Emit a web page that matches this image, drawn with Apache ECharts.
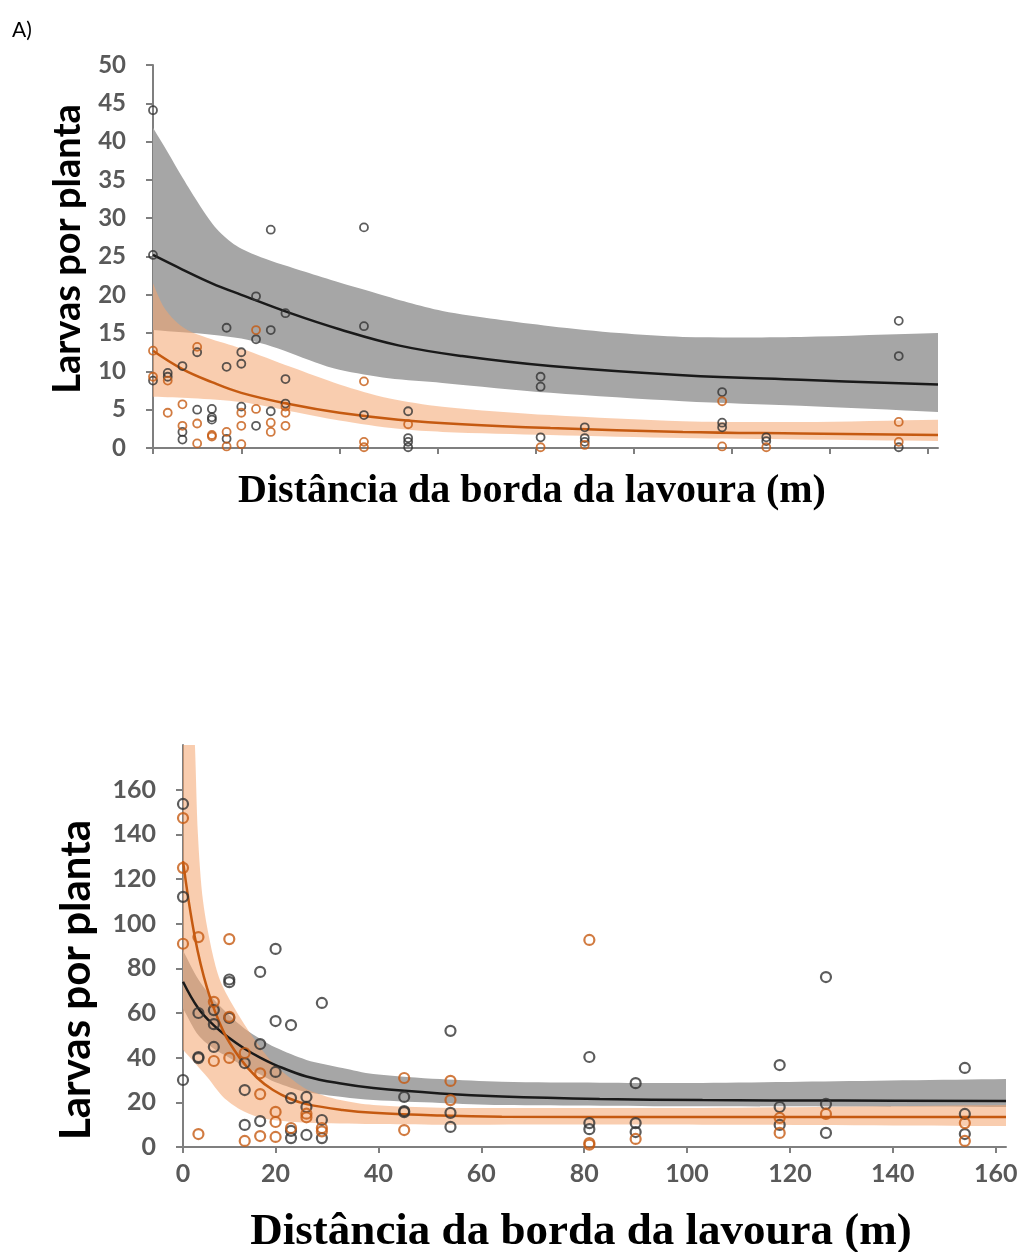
<!DOCTYPE html>
<html>
<head>
<meta charset="utf-8">
<script src="https://cdn.jsdelivr.net/npm/echarts@6/dist/echarts.min.js"></script>
<style>
html,body{margin:0;padding:0;background:#fff;}
#c{width:1023px;height:1252px;}
</style>
</head>
<body>
<div id="c"></div>
<script>
// ---------- shared ----------
const xTickVals = [2, 20, 40, 60, 80, 100, 120, 140, 160];
const xTickLabels = ['0', '20', '40', '60', '80', '100', '120', '140', '160'];

// ---------- top chart (A) ----------
const topBlackPts = [
[2,44.1],[2,25.2],[2,8.8],
[5,9.8],[5,9.3],
[8,10.7],[8,2.1],[8,1.1],
[11,12.5],[11,5.0],
[14,5.1],[14,4.0],[14,3.7],
[17,15.7],[17,10.6],[17,1.2],
[20,12.5],[20,11.0],[20,5.4],
[23,19.8],[23,14.2],[23,2.9],
[26,28.5],[26,15.4],[26,4.8],
[29,17.6],[29,9.0],[29,5.8],
[45,28.8],[45,15.9],[45,4.3],
[54,4.8],[54,1.3],[54,0.8],[54,0.1],
[81,9.3],[81,8.0],[81,1.4],
[90,2.7],[90,1.3],[90,0.8],
[118,7.3],[118,3.3],[118,2.7],
[127,1.4],[127,0.9],
[154,16.6],[154,12.0],[154,0.1]
];
const topOrangePts = [
[2,12.7],[2,9.3],
[5,8.8],[5,4.6],
[8,5.7],[8,2.9],
[11,13.2],[11,3.2],[11,0.6],
[14,1.7],[14,1.5],
[17,2.1],[17,0.2],
[20,4.6],[20,2.9],[20,0.5],
[23,15.4],[23,5.1],
[26,3.3],[26,2.1],
[29,5.4],[29,4.6],[29,2.9],
[45,8.7],[45,0.8],[45,0.1],
[54,3.1],
[81,0.1],
[90,0.4],
[118,6.1],[118,0.2],
[127,0.1],
[154,3.4],[154,0.8]
];
const topBlackFit = [[2,25.2],[8,23.3],[14,21.5],[20,20.0],[30,17.6],[40,15.5],[52,13.4],[65,12.0],[83,10.7],[110,9.5],[134,8.9],[162,8.3]];
const topBlackHi = [[2,41.8],[5,38.6],[8,35.3],[11.6,31.6],[15,28.6],[19,26.4],[24,24.9],[33,23.0],[40,21.6],[47,20.3],[54,19.0],[61,17.9],[72,16.8],[83,15.9],[97,15.0],[110,14.5],[134,14.5],[162,15.0]];
const topBlackLo = [[2,15.4],[8,15.1],[14,14.8],[20,14.3],[25,13.5],[30,12.4],[35,11.2],[40,10.2],[50,9.1],[61,8.5],[83,7.2],[110,6.1],[134,5.5],[162,4.7]];
const topOrangeFit = [[2,12.7],[8,10.3],[14,8.6],[20,7.2],[30,5.7],[40,4.6],[52,3.7],[65,3.1],[83,2.6],[110,2.1],[134,1.9],[162,1.7]];
const topOrangeHi = [[2,21.5],[4,18.6],[6.5,16.6],[9,15.4],[13,14.4],[20,13.0],[30,10.6],[40,8.3],[50,6.5],[61,5.4],[83,4.3],[110,3.5],[134,3.4],[162,3.7]];
const topOrangeLo = [[2,6.7],[10,6.5],[20,6.0],[30,4.8],[40,3.6],[52,2.5],[61,2.1],[83,1.7],[110,1.3],[134,1.1],[162,0.9]];

// ---------- bottom chart ----------
const botBlackPts = [
[2,153.6],[2,112],[2,30],
[5,60],[5,40.3],[5,39.8],
[8,61.3],[8,55],[8,44.8],
[11,75],[11,73.8],[11,57.8],
[14,37.6],[14,25.5],[14,9.9],
[17,78.4],[17,46.1],[17,11.6],
[20,88.7],[20,56.4],[20,33.6],
[23,54.6],[23,21.9],[23,7.2],[23,4.0],
[26,22.4],[26,17.9],[26,5.4],
[29,64.5],[29,12.1],[29,4.0],
[45,22.4],[45,16.1],[45,15.6],
[54,52],[54,15.3],[54,9],
[81,40.3],[81,10.7],[81,8],
[90,28.6],[90,10.7],[90,6.7],
[118,36.7],[118,17.9],[118,9.9],
[127,76.1],[127,19.3],[127,6.3],
[154,35.4],[154,14.8],[154,5.8]
];
const botOrangePts = [
[2,147.3],[2,125],[2,91],
[5,94],[5,5.8],
[8,65],[8,38.5],
[11,93.1],[11,58.3],[11,39.9],
[14,42.1],[14,2.7],
[17,33],[17,23.7],[17,4.9],
[20,15.7],[20,11.2],[20,4.5],
[23,8.5],
[26,14.9],[26,13.3],
[29,8.5],[29,7],
[45,30.9],[45,7.6],
[54,29.6],[54,21],
[81,92.7],[81,1.8],[81,1],
[90,3.6],
[118,13],[118,6.3],
[127,14.8],
[154,10.7],[154,2.7]
];
const botBlackFit = [[2,74],[5,62],[8,54.5],[11,48.8],[14,44],[17,40],[20,36.7],[26,31.6],[33,28.3],[39,26.4],[52,24.0],[64,22.6],[83,21.5],[103,21.0],[130,20.8],[162,20.6]];
const botBlackHi = [[2,88],[5,75],[8,66],[11,59],[14,53],[17,48.5],[20,44.5],[26,39],[33,35.4],[39,32.7],[52,30.4],[64,29.2],[83,28.8],[103,28.7],[122,29.2],[162,30.4]];
const botBlackLo = [[2,62],[5,50],[8,44],[11,40],[14,36],[17,32.5],[20,29],[26,24.6],[33,22.4],[39,21],[52,19.7],[64,18.8],[103,18.2],[162,17.9]];
const botOrangeFit = [[2,128],[4.3,94],[6.7,71],[9.8,52],[13,40],[16.4,31],[19.5,25.5],[22.8,21.6],[26,19.2],[33,16.6],[39,15.3],[52,14.1],[64,13.6],[103,13.4],[162,13.4]];
const botOrangeHi = [[2,300],[4.3,181],[4.9,140],[5.9,110],[7.8,86],[9.5,73],[13.1,58],[16.4,46.6],[19.5,37.6],[22.8,31],[26.1,25.8],[32.6,21],[39,18.8],[52,17.6],[64,17.5],[103,17.5],[162,18.8]];
const botOrangeLo = [[2,43.5],[6.7,31.3],[9.8,22.4],[13.1,16.8],[16.4,13.6],[19.5,12.1],[26,10.9],[39,10.3],[52,10.0],[103,10.0],[162,9.4]];

// ---------- styling ----------
const AX = '#7f7f7f';
const BLACK = '#333333';
const ORANGE = '#c55a11';
const GRAYBAND = '#a6a6a6';
const ORANGEBAND = 'rgba(244,164,110,0.55)';
const LABELFONT = 'Lato';

function band(gi, lo, hi, color, z) {
  // repeat end vertices so the smoothed outline keeps square ends
  const dup = arr => [arr[0]].concat(arr, [arr[arr.length - 1]]);
  const pts = dup(lo).concat(dup(hi.slice().reverse()));
  return {
    type: 'custom', xAxisIndex: gi, yAxisIndex: gi, clip: true, silent: true, z: z,
    data: pts,
    encode: { x: 0, y: 1 },
    renderItem: function (params, api) {
      if (params.dataIndex !== 0) return null;
      const poly = pts.map(p => api.coord(p));
      return { type: 'polygon', shape: { points: poly, smooth: 0.3 }, style: { fill: color } };
    }
  };
}
function fit(gi, data, color, w) {
  return { type: 'line', xAxisIndex: gi, yAxisIndex: gi, data: data, symbol: 'none',
    smooth: 0.4, clip: true, silent: true, z: 3,
    lineStyle: { color: color, width: w } };
}
function pts(gi, data, color, size, bw) {
  return { type: 'scatter', xAxisIndex: gi, yAxisIndex: gi, data: data, symbol: 'circle',
    symbolSize: size, silent: true, z: 4,
    itemStyle: { color: 'rgba(0,0,0,0)', borderColor: color, borderWidth: bw } };
}
function xAxisCfg(gi, showLabels) {
  return {
    type: 'value', gridIndex: gi, min: 2, max: 162,
    axisLine: { show: true, onZero: false, lineStyle: { color: AX, width: 2 } },
    axisTick: { show: true, length: 6, customValues: xTickVals, lineStyle: { color: AX, width: 2 } },
    axisLabel: { show: showLabels, customValues: xTickVals,
      formatter: v => xTickLabels[xTickVals.indexOf(v)] ?? '',
      fontFamily: LABELFONT, fontWeight: 'bold', fontSize: 25, color: '#595959', margin: 14 },
    splitLine: { show: false }
  };
}
function yAxisCfg(gi, max, interval, fs) {
  return {
    type: 'value', gridIndex: gi, min: 0, max: max, interval: interval,
    axisLine: { show: true, lineStyle: { color: AX, width: 2 } },
    axisTick: { show: true, length: 7, lineStyle: { color: AX, width: 2 } },
    axisLabel: { showMaxLabel: max === 50, fontFamily: LABELFONT, fontWeight: 'bold', fontSize: fs,
      color: '#595959', margin: 27 },
    splitLine: { show: false }
  };
}

const chart = echarts.init(document.getElementById('c'), null, { renderer: 'canvas' });
chart.setOption({
  animation: false,
  backgroundColor: '#ffffff',
  grid: [
    { left: 153, top: 65, width: 785, height: 383 },
    { left: 183, top: 745, width: 823, height: 402 }
  ],
  xAxis: [xAxisCfg(0, false), xAxisCfg(1, true)],
  yAxis: [yAxisCfg(0, 50, 5, 24), yAxisCfg(1, 180, 20, 25)],
  graphic: [
    { type: 'text', x: 12, y: 20, style: { text: 'A)', font: '21px Lato', fill: '#000' } },
    { type: 'text', x: 68, y: 249, rotation: Math.PI / 2,
      style: { text: 'Larvas por planta', font: 'bold 38px Lato', fill: '#000', align: 'center', verticalAlign: 'middle' } },
    { type: 'text', x: 76, y: 980, rotation: Math.PI / 2,
      style: { text: 'Larvas por planta', font: 'bold 42px Lato', fill: '#000', align: 'center', verticalAlign: 'middle' } },
    { type: 'text', x: 532, y: 492,
      style: { text: 'Distância da borda da lavoura (m)', font: 'bold 40px "Liberation Serif"', fill: '#000', align: 'center', verticalAlign: 'middle' } },
    { type: 'text', x: 581, y: 1232,
      style: { text: 'Distância da borda da lavoura (m)', font: 'bold 45px "Liberation Serif"', fill: '#000', align: 'center', verticalAlign: 'middle' } }
  ],
  series: [
    band(0, topBlackLo, topBlackHi, GRAYBAND, 1),
    band(0, topOrangeLo, topOrangeHi, ORANGEBAND, 2),
    fit(0, topBlackFit, '#1a1a1a', 2.5),
    fit(0, topOrangeFit, ORANGE, 2.5),
    pts(0, topBlackPts, BLACK, 8, 1.8),
    pts(0, topOrangePts, ORANGE, 8, 1.8),
    band(1, botBlackLo, botBlackHi, GRAYBAND, 1),
    band(1, botOrangeLo, botOrangeHi, ORANGEBAND, 2),
    fit(1, botBlackFit, '#1a1a1a', 2.5),
    fit(1, botOrangeFit, ORANGE, 2.5),
    pts(1, botBlackPts, BLACK, 10, 2.2),
    pts(1, botOrangePts, ORANGE, 10, 2.2)
  ]
});
</script>
</body>
</html>
